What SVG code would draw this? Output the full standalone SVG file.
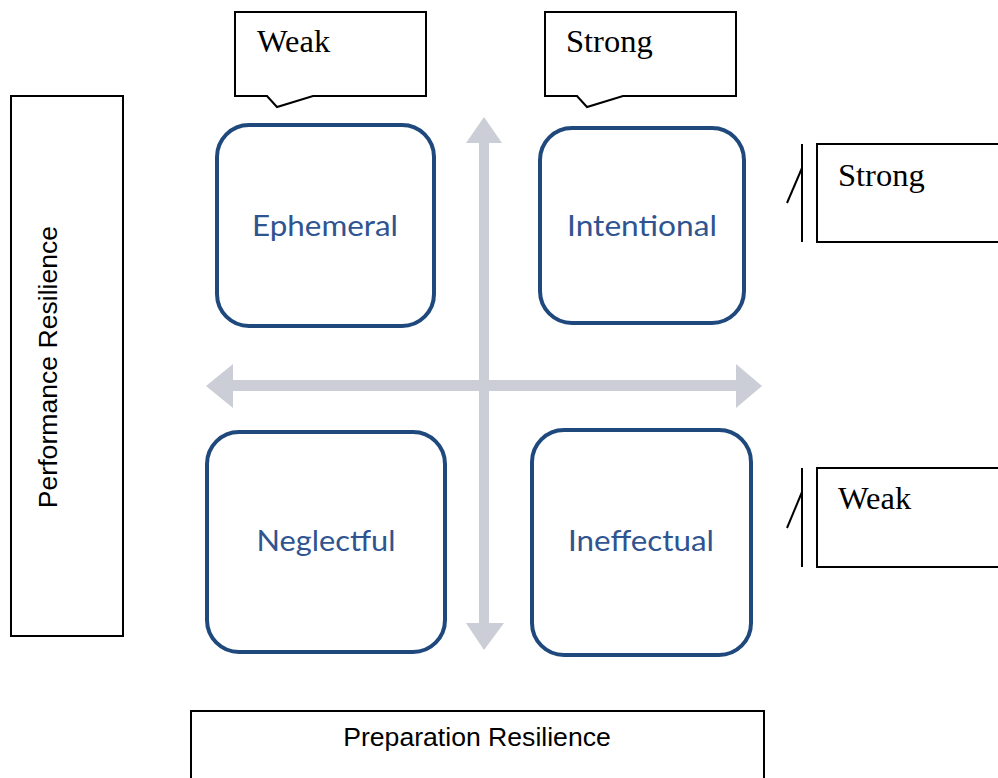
<svg xmlns="http://www.w3.org/2000/svg" width="998" height="778" viewBox="0 0 998 778">
<style>
.box{fill:#fff;stroke:#000;stroke-width:2}
.ln{fill:none;stroke:#000;stroke-width:2}
.serif{font-family:"Liberation Serif","Times New Roman",serif;font-size:32.5px;fill:#000}
.sans{font-family:"Liberation Sans",Arial,sans-serif;font-size:26.6px;fill:#000}
.quad{fill:#fff;stroke:#1f497d;stroke-width:4}
.qt{font-family:Lato,"Open Sans",sans-serif;font-size:28px;fill:#2f5490;text-anchor:middle}
.ax{fill:#cbced6}
</style>
<rect width="998" height="778" fill="#fff"/>
<g id="connectors">
<polygon class="ax" points="479,143 466,143 484,117 502,143 489,143 489,623 504,623 484,650 466,623 479,623"/>
<polygon class="ax" points="233,380 233,364 206,386 233,408 233,391 736,391 736,408 762,386 736,364 736,380"/>
</g>
<g id="weak-top">
<path class="ln" d="M235,12 H426 V96 H313 L277,107 L267,96 H235 Z" fill="#fff"/>
<text class="serif" x="257" y="52">Weak</text>
</g>
<g id="strong-top">
<path class="ln" d="M545,12 H736 V96 H623 L587,107 L577,96 H545 Z" fill="#fff"/>
<text class="serif" x="566" y="52">Strong</text>
</g>
<g id="strong-right">
<rect class="box" x="817" y="144" width="190" height="98"/>
<line class="ln" x1="802" y1="144" x2="802" y2="242"/>
<line class="ln" x1="787" y1="203" x2="802" y2="168"/>
<text class="serif" x="838" y="186">Strong</text>
</g>
<g id="weak-right">
<rect class="box" x="817" y="468" width="190" height="99"/>
<line class="ln" x1="802" y1="468" x2="802" y2="567"/>
<line class="ln" x1="787" y1="528" x2="802" y2="492"/>
<text class="serif" x="838" y="509">Weak</text>
</g>
<g id="performance">
<rect class="box" x="11" y="96" width="112" height="540"/>
<text class="sans" text-anchor="middle" transform="translate(57,367) rotate(-90)">Performance Resilience</text>
</g>
<g id="preparation">
<rect class="box" x="191" y="711" width="573" height="80"/>
<text class="sans" x="477" y="746" text-anchor="middle">Preparation Resilience</text>
</g>
<g id="ephemeral">
<rect class="quad" x="217" y="125" width="217" height="201" rx="32"/>
<text class="qt" x="325" y="236" textLength="146" lengthAdjust="spacingAndGlyphs">Ephemeral</text>
</g>
<g id="intentional">
<rect class="quad" x="540" y="128" width="204" height="195" rx="32"/>
<text class="qt" x="642" y="236" textLength="150" lengthAdjust="spacingAndGlyphs">Intentional</text>
</g>
<g id="neglectful">
<rect class="quad" x="207" y="432" width="238" height="220" rx="32"/>
<text class="qt" x="326" y="551" textLength="139" lengthAdjust="spacingAndGlyphs">Neglectful</text>
</g>
<g id="ineffectual">
<rect class="quad" x="532" y="430" width="219" height="225" rx="32"/>
<text class="qt" x="641" y="551" textLength="146" lengthAdjust="spacingAndGlyphs">Ineffectual</text>
</g>
</svg>
